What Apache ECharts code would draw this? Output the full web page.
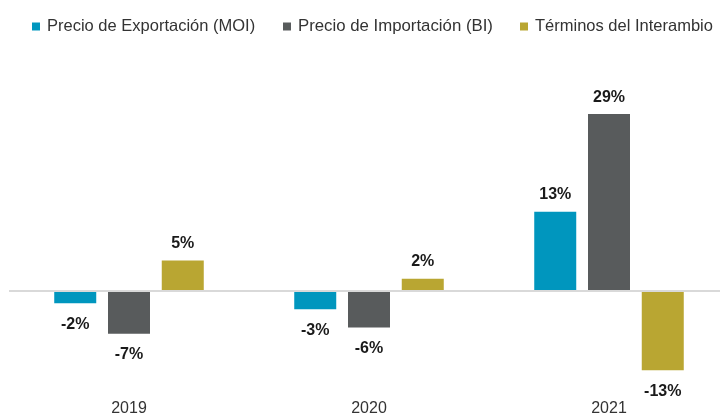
<!DOCTYPE html>
<html>
<head>
<meta charset="utf-8">
<script src="https://cdn.jsdelivr.net/npm/echarts@6/dist/echarts.min.js"></script>
<style>
  html, body { margin: 0; padding: 0; background: #fff; }
  #chart { width: 720px; height: 415px; }
</style>
</head>
<body>
<div id="chart"></div>
<script>
  const years = ['2019', '2020', '2021'];
  const exportPrice = [-2, -3, 13];
  const importPrice = [-7, -6, 29];
  const termsOfTrade = [5, 2, -13];

  const seriesNames = ['Precio de Exportación (MOI)', 'Precio de Importación (BI)', 'Términos del Interambio'];
  const colors = ['#0096be', '#585b5c', '#b9a632'];

  const myChart = echarts.init(document.getElementById('chart'));

  // etiqueta arriba para positivos, abajo para negativos
  function withLabels(values) {
    return values.map(v => ({
      value: v,
      label: {
        position: v < 0 ? 'bottom' : 'top',
        distance: v < 0 ? 13 : 9
      }
    }));
  }

  function makeSeries(name, values, color, withZero) {
    const s = {
      name: name,
      type: 'bar',
      barWidth: 42,
      barGap: '28%',
      data: withLabels(values),
      itemStyle: { color: color },
      label: {
        show: true,
        formatter: '{c}%',
        fontFamily: 'Liberation Sans',
        fontSize: 16,
        fontWeight: 'bold',
        color: '#1a1a1a'
      }
    };
    if (withZero) {
      s.markLine = {
        silent: true,
        symbol: 'none',
        label: { show: false },
        lineStyle: { color: '#d9d9d9', width: 2, type: 'solid' },
        data: [{ yAxis: 0 }]
      };
    }
    return s;
  }

  // una leyenda por serie para fijar cada posición
  function makeLegend(name, left, size) {
    return {
      data: [name],
      left: left,
      top: 13,
      icon: 'rect',
      itemWidth: 8,
      itemHeight: 8,
      textStyle: { fontSize: size, color: '#333', padding: [0, 0, 0, 2] }
    };
  }

  const option = {
    animation: false,
    textStyle: { fontFamily: 'Liberation Sans' },
    legend: [
      makeLegend(seriesNames[0], 27, 16.5),
      makeLegend(seriesNames[1], 278, 16.8),
      makeLegend(seriesNames[2], 515, 16.5)
    ],
    grid: {
      left: 9,
      width: 720,
      top: 108,
      bottom: 32.5,
      outerBoundsMode: 'none'
    },
    xAxis: {
      type: 'category',
      data: years,
      axisLine: { show: false, onZero: false },
      axisTick: { show: false },
      axisLabel: { fontSize: 16, color: '#333', margin: 18 }
    },
    yAxis: {
      type: 'value',
      min: -15,
      max: 30,
      interval: 15,
      show: false,
      splitLine: { show: false }
    },
    series: [
      makeSeries(seriesNames[0], exportPrice, colors[0], true),
      makeSeries(seriesNames[1], importPrice, colors[1], false),
      makeSeries(seriesNames[2], termsOfTrade, colors[2], false)
    ]
  };

  myChart.setOption(option);
</script>
</body>
</html>
